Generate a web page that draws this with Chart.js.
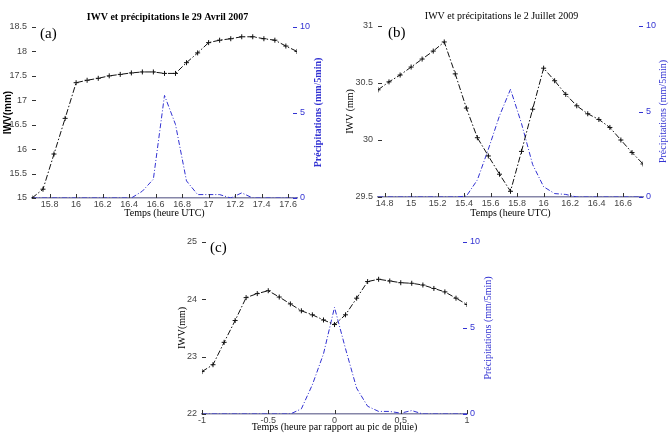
<!DOCTYPE html>
<html><head><meta charset="utf-8">
<script src="https://cdn.jsdelivr.net/npm/chart.js@4/dist/chart.umd.min.js"></script>
<style>
html,body{margin:0;padding:0;background:#fff;width:669px;height:437px;overflow:hidden}
canvas{position:absolute}
</style></head><body>
<canvas id="ca" width="335" height="225" style="left:0px;top:0px"></canvas>
<canvas id="cb" width="335" height="225" style="left:334px;top:0px"></canvas>
<canvas id="cc" width="370" height="212" style="left:150px;top:225px"></canvas>
<script>
// ---- (a) 29 Avril 2007 ----
const timeA = [15.667, 15.75, 15.833, 15.917, 16.0, 16.083, 16.167, 16.25, 16.333, 16.417, 16.5, 16.583, 16.667, 16.75, 16.833, 16.917, 17.0, 17.083, 17.167, 17.25, 17.333, 17.417, 17.5, 17.583, 17.667];
const iwvA = [15.0, 15.18, 15.9, 16.63, 17.36, 17.41, 17.45, 17.5, 17.53, 17.56, 17.58, 17.58, 17.55, 17.55, 17.77, 17.97, 18.18, 18.23, 18.26, 18.3, 18.3, 18.26, 18.23, 18.11, 18.0];
const precipA = [0, 0, 0, 0, 0, 0, 0, 0, 0, 0, 0.4, 1.1, 6.0, 4.3, 1.0, 0.2, 0.2, 0.2, 0, 0.3, 0, 0, 0, 0, 0];
const xTicksA = [15.8, 16, 16.2, 16.4, 16.6, 16.8, 17, 17.2, 17.4, 17.6];
const yTicksA = [15, 15.5, 16, 16.5, 17, 17.5, 18, 18.5];

// ---- (b) 2 Juillet 2009 ----
const timeB = [14.75, 14.833, 14.917, 15.0, 15.083, 15.167, 15.25, 15.333, 15.417, 15.5, 15.583, 15.667, 15.75, 15.833, 15.917, 16.0, 16.083, 16.167, 16.25, 16.333, 16.417, 16.5, 16.583, 16.667, 16.75];
const iwvB = [30.44, 30.51, 30.57, 30.64, 30.71, 30.78, 30.86, 30.58, 30.28, 30.02, 29.86, 29.70, 29.55, 29.90, 30.27, 30.63, 30.52, 30.40, 30.30, 30.23, 30.18, 30.11, 30.00, 29.89, 29.79];
const precipB = [0, 0, 0, 0, 0, 0, 0, 0, 0.05, 1.0, 2.8, 4.75, 6.3, 4.3, 1.9, 0.6, 0.2, 0.15, 0, 0, 0, 0, 0, 0, 0];
const xTicksB = [14.8, 15, 15.2, 15.4, 15.6, 15.8, 16, 16.2, 16.4, 16.6];
const yTicksB = [29.5, 30, 30.5, 31];

// ---- (c) composite ----
const timeC = [-1, -0.917, -0.833, -0.75, -0.667, -0.583, -0.5, -0.417, -0.333, -0.25, -0.167, -0.083, 0, 0.083, 0.167, 0.25, 0.333, 0.417, 0.5, 0.583, 0.667, 0.75, 0.833, 0.917, 1];
const iwvC = [22.74, 22.86, 23.25, 23.63, 24.03, 24.10, 24.15, 24.04, 23.92, 23.80, 23.73, 23.64, 23.56, 23.73, 24.02, 24.31, 24.35, 24.32, 24.29, 24.28, 24.25, 24.19, 24.13, 24.02, 23.91];
const precipC = [0, 0, 0, 0, 0, 0, 0, 0, 0, 0.3, 1.7, 3.5, 6.2, 3.8, 1.5, 0.45, 0.15, 0.15, 0.05, 0.2, 0, 0, 0, 0, 0];
const xTicksC = [-1, -0.5, 0, 0.5, 1];
const yTicksC = [22, 23, 24, 25];

const precipTicks = [0, 5, 10];

const BLUE = '#3232d2';
const SERIF = '"Liberation Serif", "Times New Roman", serif';
const SANS = '"Liberation Sans", Arial, sans-serif';

const decor = {
  id: 'decor',
  afterDraw(chart, args, o) {
    const ctx = chart.ctx, a = chart.chartArea;
    const sx = chart.scales.x, sy = chart.scales.y, sy2 = chart.scales.y2;
    ctx.save();
    ctx.lineWidth = 1;
    ctx.strokeStyle = '#333';
    ctx.beginPath();
    sx.ticks.forEach(t => { const px = Math.round(sx.getPixelForValue(t.value)) + 0.5; ctx.moveTo(px, a.bottom); ctx.lineTo(px, a.bottom - 4); });
    sy.ticks.forEach(t => { const py = Math.round(sy.getPixelForValue(t.value)) + 0.5; ctx.moveTo(a.left, py); ctx.lineTo(a.left + 4, py); });
    ctx.stroke();
    ctx.strokeStyle = BLUE;
    ctx.beginPath();
    sy2.ticks.forEach(t => { const py = Math.round(sy2.getPixelForValue(t.value)) + 0.5; ctx.moveTo(a.right, py); ctx.lineTo(a.right - 4, py); });
    ctx.stroke();
    ctx.fillStyle = BLUE;
    ctx.font = o.rightFont;
    ctx.textAlign = 'center';
    ctx.textBaseline = 'middle';
    ctx.translate(o.rightX, (a.top + a.bottom) / 2);
    ctx.rotate(-Math.PI / 2);
    ctx.fillText(o.rightTitle, 0, 0);
    ctx.restore();
    ctx.save();
    ctx.font = '15px ' + SERIF;
    ctx.fillStyle = '#000';
    ctx.textAlign = 'left';
    ctx.textBaseline = 'middle';
    ctx.fillText(o.label, a.left + o.lx, a.top + o.ly);
    ctx.restore();
  }
};

function pts(t, v) { return t.map((x, i) => ({x: x, y: v[i]})); }

function makeChart(id, p) {
  return new Chart(document.getElementById(id), {
    type: 'line',
    data: {
      datasets: [
        {
          data: pts(p.time, p.iwv), yAxisID: 'y',
          borderColor: '#111', borderWidth: 1, borderDash: [6, 2, 1.5, 2],
          pointStyle: 'cross', pointRadius: 2.5, pointBorderColor: '#111', pointBorderWidth: 1,
          tension: 0, fill: false
        },
        {
          data: pts(p.time, p.precip), yAxisID: 'y2',
          borderColor: BLUE, borderWidth: 1, borderDash: [5, 2, 1, 2],
          pointRadius: 0, tension: 0, fill: false
        }
      ]
    },
    options: {
      responsive: false, animation: false, devicePixelRatio: 1,
      layout: { padding: { top: p.padTop, left: 0, right: 0, bottom: 0 } },
      plugins: {
        legend: { display: false }, tooltip: { enabled: false },
        title: p.title ? { display: true, text: p.title, font: { family: SERIF, size: 10, weight: p.titleWeight }, color: '#000', padding: p.titlePad } : { display: false },
        decor: { rightTitle: 'Précipitations (mm/5min)', rightX: p.rightX, rightFont: p.rightFont, label: p.label, lx: p.lx, ly: p.ly }
      },
      scales: {
        x: {
          type: 'linear', min: p.xmin, max: p.xmax,
          afterBuildTicks: s => { s.ticks = p.xTicks.map(v => ({value: v})); },
          afterFit: s => { s.height = p.xH; },
          grid: { display: false, drawTicks: false },
          border: { display: true, color: '#8686a8', width: 1.5 },
          ticks: { font: { family: SANS, size: 9 }, color: '#444', padding: p.xTickPad, autoSkip: false, maxRotation: 0, callback: v => String(v) },
          title: { display: true, text: p.xTitle, font: { family: SERIF, size: 10 }, color: '#000', padding: { top: 0, bottom: p.xTitlePad } }
        },
        y: {
          position: 'left', min: p.ymin, max: p.ymax,
          afterBuildTicks: s => { s.ticks = p.yTicks.map(v => ({value: v})); },
          afterFit: s => { s.width = p.yW; },
          grid: { display: false, drawTicks: false },
          border: { display: false },
          ticks: { font: { family: SANS, size: 9 }, color: '#444', padding: 5, callback: v => String(v) },
          title: { display: true, text: p.yTitle, font: p.yTitleFont, color: '#000', padding: { top: p.yTitlePad, bottom: 0 } }
        },
        y2: {
          position: 'right', min: 0, max: 10,
          afterBuildTicks: s => { s.ticks = precipTicks.map(v => ({value: v})); },
          afterFit: s => { s.width = p.y2W; },
          grid: { display: false, drawTicks: false },
          border: { display: false },
          ticks: { font: { family: SANS, size: 9 }, color: BLUE, padding: 3, callback: v => String(v) }
        }
      }
    },
    plugins: [decor]
  });
}

makeChart('ca', {
  time: timeA, iwv: iwvA, precip: precipA, xTicks: xTicksA, yTicks: yTicksA,
  xmin: 15.667, xmax: 17.667, ymin: 15, ymax: 18.5,
  title: 'IWV et précipitations le 29 Avril 2007', titleWeight: 'bold', titlePad: { top: 11, bottom: 4 }, padTop: 0,
  xH: 27, xTickPad: 1, xTitle: 'Temps (heure UTC)', xTitlePad: 6,
  yW: 32, yTitle: 'IWV(mm)', yTitleFont: { family: SANS, size: 10, weight: 'bold' }, yTitlePad: 2,
  y2W: 38, rightX: 318, rightFont: 'bold 10px ' + SERIF,
  label: '(a)', lx: 8, ly: 7
});

makeChart('cb', {
  time: timeB, iwv: iwvB, precip: precipB, xTicks: xTicksB, yTicks: yTicksB,
  xmin: 14.75, xmax: 16.75, ymin: 29.5, ymax: 31,
  title: 'IWV et précipitations le 2 Juillet 2009', titleWeight: 'normal', titlePad: { top: 10, bottom: 4 }, padTop: 0,
  xH: 28, xTickPad: 1, xTitle: 'Temps (heure UTC)', xTitlePad: 6,
  yW: 44, yTitle: 'IWV (mm)', yTitleFont: { family: SERIF, size: 10 }, yTitlePad: 10,
  y2W: 26, rightX: 329, rightFont: '10px ' + SERIF,
  label: '(b)', lx: 10, ly: 7
});

makeChart('cc', {
  time: timeC, iwv: iwvC, precip: precipC, xTicks: xTicksC, yTicks: yTicksC,
  xmin: -1, xmax: 1, ymin: 22, ymax: 25,
  title: null, titlePad: null, padTop: 17,
  xH: 23, xTickPad: 1, xTitle: 'Temps (heure par rapport au pic de pluie)', xTitlePad: 4,
  yW: 52, yTitle: 'IWV(mm)', yTitleFont: { family: SERIF, size: 10 }, yTitlePad: 26,
  y2W: 53, rightX: 338, rightFont: '10px ' + SERIF,
  label: '(c)', lx: 8, ly: 6
});
</script>
</body></html>
